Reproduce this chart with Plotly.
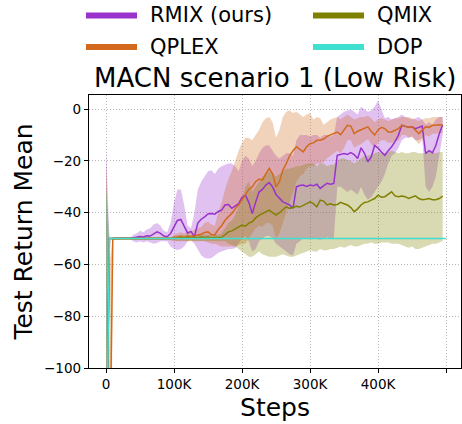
import plotly.graph_objects as go

# Evaluation steps (every 5K environment steps)
steps = [i * 5000 for i in range(100)]
steps_dop = [i * 5000 for i in range(101)]

rmix_mean = [
    -150, -50, -50, -50, -50, -50, -50, -50, -49.8, -49.5,
    -49.2, -49.4, -48.9, -49.0, -48.3, -47.4, -48.0, -49.0, -49.3, -48.0,
    -45.5, -43.0, -42.6, -45.0, -47.9, -47.2, -49.3, -44.0, -42.5, -41.6,
    -40.5, -40.3, -40.6, -39.5, -39.0, -37.0, -36.8, -38.3, -37.5, -36.5,
    -34.0, -33.2, -36.0, -40.3, -36.0, -32.0, -31.0, -29.3, -28.3, -30.0,
    -33.0, -34.5, -35.8, -36.4, -37.0, -38.3, -30.0, -29.5, -29.3, -29.8,
    -29.3, -29.6, -29.0, -30.6, -29.5, -28.6, -29.0, -28.7, -17.8, -17.4,
    -17.1, -17.5, -16.8, -17.5, -19.0, -14.9, -17.0, -20.3, -18.4, -14.0,
    -15.0, -16.5, -17.8, -16.0, -14.5, -12.5, -10.0, -6.2, -6.5, -7.0,
    -6.8, -7.5, -7.0, -6.5, -17.1, -16.0, -16.8, -14.0, -9.5, -6.0,
]
rmix_upper = [
    -14, -50, -50, -50, -50, -50, -50, -50, -48.5, -48,
    -47, -47.5, -46.5, -46, -44.5, -44, -45, -47, -47.5, -44,
    -36, -31, -31, -37, -45, -46, -40, -31, -28, -26,
    -24, -23.6, -25, -23, -22, -21.5, -21, -21, -22, -24,
    -20, -18, -19, -22, -20, -17, -15, -14, -14, -16,
    -18, -19, -18, -17, -17, -18, -12, -10, -10, -10,
    -10.5, -10, -10, -11, -10, -10, -10.5, -10, -3, -2,
    -1, -0.5, 0, -1, -2, 1, 0, -1, -0.5, 1,
    3.5, 0, -3.5, -3, -4, -3.5, -3, -2, -3, -3.5,
    -4, -3.5, -3, -4, -6, -5, -6, -4, -3, -3,
]
rmix_lower = [
    -300, -50, -50, -50, -50, -50, -50, -50, -51, -51.5,
    -51, -51.5, -51, -51.5, -52, -51.7, -51, -51, -51, -53,
    -54, -54.4, -54, -53, -51, -50.5, -52, -54, -56.4, -57.5,
    -57.7, -57.5, -56.5, -55.5, -55, -54.5, -54, -54, -53.7, -52,
    -50, -49, -51, -55, -54, -51, -50, -49, -49, -50,
    -52, -53, -54, -55, -56, -56.5, -52, -51, -50, -50,
    -50, -50, -50, -50.5, -50, -49.5, -50, -50, -30, -30,
    -31, -32, -31, -32, -33, -30, -33, -35, -34, -32,
    -30, -28, -25, -21, -18, -17, -15, -12, -11, -11,
    -10.5, -12, -12, -11, -30, -32, -30, -26, -18, -10,
]

qplex_mean = [
    -150, -150, -50, -50, -50, -50, -50, -50, -50, -50,
    -50, -50, -50, -50, -50, -50, -50, -50, -50, -50,
    -49.7, -49.5, -49.2, -49.6, -49.0, -49.3, -48.8, -48.6, -48.3, -47.6,
    -47.4, -48.4, -48.6, -46.5, -45.0, -42.9, -41.5, -40.3, -38.5, -37.0,
    -35.0, -33.2, -31.0, -30.0, -28.0, -27.0, -27.4, -25.0, -22.9, -25.0,
    -30.0, -28.0, -23.5, -21.0, -18.0, -16.0, -14.5, -15.5, -16.5, -14.5,
    -13.3, -13.0, -12.0, -12.0, -11.5, -10.5, -10.0, -9.5, -8.8, -9.8,
    -8.0, -6.2, -6.5, -9.4, -8.5, -8.0, -7.5, -6.8, -8.5, -10.0,
    -8.0, -7.0, -7.5, -8.8, -8.8, -8.0, -7.5, -6.2, -6.5, -7.0,
    -6.8, -8.0, -9.4, -8.0, -6.8, -7.0, -6.2, -6.2, -6.0, -6.2,
]
qplex_upper = [
    -20, -60, -49.5, -49.5, -49.5, -49.5, -49.5, -49.5, -49.5, -49.5,
    -49.5, -49.5, -49.5, -49.5, -49.5, -49.5, -49.5, -49.5, -49.5, -49.5,
    -48.5, -48, -47.5, -48, -47, -47.5, -46.5, -46, -45.5, -44,
    -43.5, -44.5, -45, -40, -36, -31, -27, -24, -20, -16,
    -13, -11, -11, -12, -10, -8, -5, -3.5, -3, -5,
    -11, -8, -3, -1, -0.5, -1.5, -1, -2, -3, -2,
    -1.5, -4, -3, -3.5, -6, -5, -4, -3.5, -3, -4,
    -3, -2, -3, -4, -3.5, -3, -3, -2.5, -3.5, -5,
    -4, -3.5, -4, -4.5, -4, -3.5, -3.5, -3, -3, -3,
    -3.5, -4, -4.5, -4, -3.5, -3.5, -3, -3, -3, -3,
]
qplex_lower = [
    -300, -300, -50.5, -50.5, -50.5, -50.5, -50.5, -50.5, -50.5, -50.5,
    -50.5, -50.5, -50.5, -50.5, -50.5, -50.5, -50.5, -50.5, -50.5, -50.5,
    -51, -51, -51, -51, -51, -51, -51, -51, -51, -51,
    -51.5, -52, -52, -52.5, -53, -53, -53, -53, -53, -52.5,
    -52, -52, -50, -48, -46, -45, -45.5, -44, -44, -45,
    -50, -48, -44, -40, -36, -32, -28, -26, -25, -23,
    -22, -22, -21, -21, -20.5, -19, -18, -17, -16, -17,
    -15, -12, -12, -15, -14, -13.5, -12.5, -11.5, -13.5, -15,
    -13, -12, -12, -13, -13, -12.5, -12, -10, -10, -11,
    -10.5, -12, -13.5, -12, -10, -10.5, -9.5, -9.5, -9, -9.5,
]

qmix_mean = [
    -150, -50, -50, -50, -50, -50, -50, -50, -50, -50,
    -50, -50, -50, -50, -50, -50, -50, -50, -50, -50,
    -50, -49.9, -49.7, -49.8, -49.5, -49.8, -49.6, -49.7, -49.4, -49.6,
    -49.5, -49.7, -49.6, -49.6, -49.5, -48.5, -47.4, -47.0, -46.2, -45.5,
    -44.8, -45.2, -44.0, -43.5, -42.0, -41.0, -40.3, -39.5, -39.0, -40.0,
    -40.9, -40.0, -39.0, -37.7, -38.3, -38.0, -37.5, -37.8, -37.0, -36.5,
    -35.8, -36.5, -37.7, -35.1, -35.5, -37.0, -36.5, -37.0, -36.8, -36.0,
    -36.5, -37.0, -38.0, -39.6, -38.5, -37.0, -36.0, -35.8, -35.1, -34.5,
    -33.2, -34.0, -33.8, -33.0, -31.9, -33.5, -33.8, -33.5, -33.8, -34.5,
    -34.0, -33.5, -34.5, -35.0, -34.8, -34.5, -35.0, -35.0, -34.5, -33.6,
]
qmix_upper = [
    -30, -50, -49.5, -49.5, -49.5, -49.5, -49.5, -49.5, -49.5, -49.5,
    -49.5, -49.5, -49.5, -49.5, -49.5, -49.5, -49.5, -49.5, -49.5, -49.5,
    -49, -48.8, -48.6, -48.7, -48.4, -48.7, -48.5, -48.6, -48.3, -48.5,
    -48.4, -48.6, -48.5, -48.5, -48, -46, -44, -43, -41, -38,
    -35, -30, -28, -32, -30, -28, -26, -25, -24, -25,
    -26, -25, -24, -23, -23, -22.5, -22, -22, -21.5, -21,
    -21, -21, -22, -21, -21, -22, -21.5, -21.5, -20, -19,
    -19, -19.5, -20, -21, -20, -19, -18, -18, -17.5, -17,
    -16.5, -17, -17, -16.5, -16, -16.5, -17, -16.5, -17, -17,
    -16.5, -16.5, -17, -17, -17, -16.5, -16.5, -17, -16.5, -16.5,
]
qmix_lower = [
    -300, -50, -50.5, -50.5, -50.5, -50.5, -50.5, -50.5, -50.5, -50.5,
    -50.5, -50.5, -50.5, -50.5, -50.5, -50.5, -50.5, -50.5, -50.5, -50.5,
    -50.7, -50.8, -50.8, -50.9, -50.8, -51, -50.9, -51, -50.8, -51,
    -50.9, -51, -51, -51, -51, -51, -52, -52.5, -53, -54,
    -55, -56, -57, -57, -56, -55, -56, -56.5, -57, -57,
    -57, -56.5, -56, -56.5, -57, -57, -56.5, -56, -55.5, -55,
    -54.5, -55, -55, -54, -54.5, -54.5, -54, -54, -53.5, -53,
    -53.5, -53, -52.5, -53, -53, -52.5, -52, -52, -51.5, -52,
    -52, -51.5, -51.5, -51.5, -52, -52, -52, -52.5, -53, -53.5,
    -53, -54, -54, -53.5, -53, -52.5, -52, -52, -51.5, -51,
]

dop_mean = [
    -150, -50, -50, -50, -50, -50, -50, -50, -50, -50,
    -50, -50, -50, -50, -50, -50, -50, -50, -50, -50,
    -50, -50, -50, -50, -50, -50, -50, -50, -50, -50,
    -50, -50, -50, -50, -50, -50, -50, -50, -50, -50,
    -50, -50, -50, -50, -50, -50, -50, -50, -50, -50,
    -50, -50, -50, -50, -50, -50, -50, -50, -50, -50,
    -50, -50, -50, -50, -50, -50, -50, -50, -50, -50,
    -50, -50, -50, -50, -50, -50, -50, -50, -50, -50,
    -50, -50, -50, -50, -50, -50, -50, -50, -50, -50,
    -50, -50, -50, -50, -50, -50, -50, -50, -50, -50,
    -50,
]
dop_upper = [-30] + dop_mean[1:]
dop_lower = [-300] + dop_mean[1:]

x_tickvals = [0, 100000, 200000, 300000, 400000, 500000]
x_ticktext = ["0", "100K", "200K", "300K", "400K", "500K"]
y_tickvals = [-100, -80, -60, -40, -20, 0]

methods = ["RMIX (ours)", "QPLEX", "QMIX", "DOP"]
colors = ["#9932CC", "#D2691E", "#808000", "#40E0D0"]
band_colors = ["rgba(153,50,204,0.3)", "rgba(210,105,30,0.3)",
               "rgba(128,128,0,0.3)", "rgba(64,224,208,0.3)"]

series = [
    (steps, rmix_mean, rmix_upper, rmix_lower),
    (steps, qplex_mean, qplex_upper, qplex_lower),
    (steps, qmix_mean, qmix_upper, qmix_lower),
    (steps_dop, dop_mean, dop_upper, dop_lower),
]

W, H = 462, 424
ML, MR, MT, MB = 89, 1, 95, 56
FONT = "DejaVu Sans"

fig = go.Figure()

# shaded spread bands
for (xs, m, up, lo), bc in zip(series, band_colors):
    fig.add_trace(go.Scatter(
        x=xs + xs[::-1], y=up + lo[::-1], fill="toself", fillcolor=bc,
        line=dict(width=0), mode="lines", hoverinfo="skip", showlegend=False))

# mean curves
for (xs, m, up, lo), name, c in zip(series, methods, colors):
    fig.add_trace(go.Scatter(x=xs, y=m, mode="lines", name=name,
                             line=dict(color=c, width=1.5), showlegend=False))

plot_w = W - ML - MR
plot_h = H - MT - MB


def px_x(px):
    return (px - ML) / plot_w


def px_y(py):
    return (H - MB - py) / plot_h


# legend drawn above the axes in two columns
legend_pos = [(86, 15.5), (86, 47), (313, 15.5), (313, 47)]
shapes = []
annotations = []
for (lx, ly), name, c in zip(legend_pos, methods, colors):
    shapes.append(dict(type="line", xref="paper", yref="paper",
                       x0=px_x(lx), x1=px_x(lx + 51), y0=px_y(ly), y1=px_y(ly),
                       line=dict(color=c, width=6)))
    annotations.append(dict(text=name, xref="paper", yref="paper",
                            x=px_x(lx + 62), y=px_y(ly), xanchor="left",
                            yanchor="middle", showarrow=False,
                            font=dict(family=FONT, size=21, color="black")))

annotations.append(dict(text="MACN scenario 1 (Low Risk)", xref="paper", yref="paper",
                        x=px_x(275), y=px_y(78), xanchor="center", yanchor="middle",
                        showarrow=False, font=dict(family=FONT, size=26, color="black")))

fig.update_layout(
    width=W, height=H,
    margin=dict(l=ML, r=MR, t=MT, b=MB, pad=0),
    paper_bgcolor="white", plot_bgcolor="white",
    font=dict(family=FONT, color="black"),
    shapes=shapes, annotations=annotations,
    showlegend=False,
)

fig.update_xaxes(
    range=[-25000, 522000], tickvals=x_tickvals, ticktext=x_ticktext,
    showline=True, mirror=True, linecolor="black", linewidth=1.3,
    ticks="outside", ticklen=4, tickcolor="black",
    showgrid=True, gridcolor="#b8b8b8", griddash="1px,2px", gridwidth=1,
    zeroline=False, tickfont=dict(family=FONT, size=13.5),
    title=dict(text="Steps", font=dict(family=FONT, size=25), standoff=7),
)
fig.update_yaxes(
    range=[-100, 5.5], tickvals=y_tickvals,
    showline=True, mirror=True, linecolor="black", linewidth=1.3,
    ticks="outside", ticklen=4, tickcolor="black",
    showgrid=True, gridcolor="#b8b8b8", griddash="1px,2px", gridwidth=1,
    zeroline=False, tickfont=dict(family=FONT, size=13.5),
    title=dict(text="Test Return Mean", font=dict(family=FONT, size=25), standoff=4),
)

fig.write_html("out.html")
